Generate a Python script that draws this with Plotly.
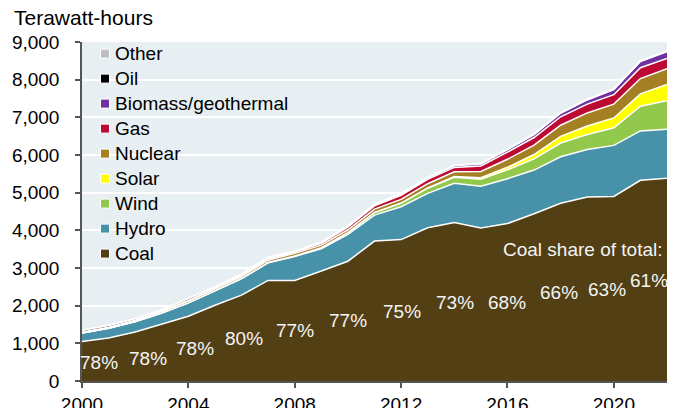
import plotly.graph_objects as go

# China electricity generation by source, terawatt-hours
years = list(range(2000, 2023))

coal = [1050, 1140, 1300, 1520, 1720, 2010, 2280, 2670, 2670, 2920, 3180, 3715,
        3755, 4070, 4210, 4060, 4180, 4440, 4720, 4885, 4900, 5330, 5380]
hydro = [222, 260, 275, 283, 354, 380, 436, 470, 637, 590, 715, 690,
         870, 910, 1040, 1110, 1190, 1160, 1232, 1260, 1355, 1310, 1303]
wind = [1, 1, 1, 1, 1, 2, 4, 6, 13, 27, 45, 70,
        96, 138, 156, 186, 237, 295, 366, 400, 467, 655, 760]
solar = [0, 0, 0, 0, 0, 0, 0, 0, 0, 0, 1, 3,
         4, 9, 24, 39, 66, 118, 177, 224, 262, 327, 430]
nuclear = [17, 17, 25, 43, 50, 53, 55, 62, 68, 70, 74, 86,
           97, 111, 126, 170, 213, 248, 295, 348, 366, 408, 418]
gas = [6, 7, 8, 9, 10, 12, 28, 40, 31, 50, 69, 86,
       110, 115, 115, 145, 188, 203, 225, 233, 252, 287, 271]
biomass = [2, 2, 2, 2, 2, 4, 6, 7, 10, 15, 25, 30,
           35, 40, 45, 53, 65, 80, 93, 112, 136, 166, 182]
oil = [47, 46, 40, 30, 50, 35, 30, 25, 15, 10, 13, 8,
       6, 6, 10, 10, 10, 10, 10, 10, 10, 10, 10]
other = [5, 5, 5, 5, 5, 5, 5, 5, 5, 5, 5, 5,
         5, 5, 5, 5, 5, 5, 10, 10, 10, 10, 10]

# stacking order, bottom to top
series_names = ["Coal", "Hydro", "Wind", "Solar", "Nuclear", "Gas",
                "Biomass/geothermal", "Oil", "Other"]
series_values = [coal, hydro, wind, solar, nuclear, gas, biomass, oil, other]
series_colors = ["#523f14", "#4791a9", "#92c84b", "#ffff00", "#a57f24",
                 "#bd0a34", "#7030a0", "#000000", "#bfbfbf"]

# coal share labels (every other year)
share_x = [2000.64, 2002.47, 2004.26, 2006.09, 2008.0, 2010.0,
           2012.04, 2014.04, 2016.0, 2017.94, 2019.75, 2021.34]
share_y = [496, 603, 868, 1134, 1346, 1611, 1850, 2089, 2089, 2355, 2434, 2673]
share_text = ["78%", "78%", "78%", "80%", "77%", "77%",
              "75%", "73%", "68%", "66%", "63%", "61%"]

x_ticks = [2000, 2004, 2008, 2012, 2016, 2020]
y_ticks = list(range(0, 9001, 1000))

FONT = "Liberation Sans, Arial, sans-serif"

fig = go.Figure()
for name, vals, col in zip(series_names, series_values, series_colors):
    fig.add_trace(go.Scatter(
        x=years, y=vals, name=name, mode="lines",
        stackgroup="one", fillcolor=col,
        line=dict(color="white", width=1.5),
        showlegend=False,
    ))

annotations = []
shapes = []

# plot-area edges in pixels
L, R, T, B = 82, 667, 41.7, 380.7
W, H = R - L, B - T

# legend drawn as squares + labels, top item is the last stacked series
for i, (name, col) in enumerate(zip(series_names[::-1], series_colors[::-1])):
    yc = 53.3 + 25 * i
    yp = (B - yc) / H
    shapes.append(dict(
        type="rect", xref="paper", yref="paper",
        xsizemode="pixel", ysizemode="pixel",
        xanchor=(105 - L) / W, yanchor=yp,
        x0=-4.5, x1=4.5, y0=-4.5, y1=4.5,
        fillcolor=col, line=dict(color="white", width=1),
    ))
    annotations.append(dict(
        x=(113 - L) / W, y=yp, xref="paper", yref="paper",
        xanchor="left", yanchor="middle", text=name, showarrow=False,
        font=dict(family=FONT, size=19, color="#000000"),
    ))

for sx, sy, st in zip(share_x, share_y, share_text):
    annotations.append(dict(
        x=sx, y=sy, xref="x", yref="y", text=st, showarrow=False,
        xanchor="center", yanchor="middle",
        font=dict(family=FONT, size=19, color="#f4f4f4"),
    ))

annotations.append(dict(
    x=2021.9, y=3496, xref="x", yref="y", text="Coal share of total:",
    showarrow=False, xanchor="right", yanchor="middle",
    font=dict(family=FONT, size=19, color="#f4f4f4"),
))

annotations.append(dict(
    x=(12 - L) / W, y=(B - 17) / H, xref="paper", yref="paper",
    text="Terawatt-hours", showarrow=False, xanchor="left", yanchor="middle",
    font=dict(family=FONT, size=21, color="#000000"),
))

fig.update_layout(
    width=677, height=408,
    margin=dict(l=L, r=677 - R, t=T, b=408 - B, autoexpand=False),
    paper_bgcolor="white",
    plot_bgcolor="#e7eff2",
    font=dict(family=FONT, size=19, color="#000000"),
    showlegend=False,
    annotations=annotations,
    shapes=shapes,
    xaxis=dict(
        range=[2000, 2022], tickvals=x_ticks, automargin=False,
        ticks="outside", ticklen=5, tickwidth=1.5, tickcolor="#555555",
        showline=True, linecolor="#555555", linewidth=1.5,
        showgrid=False, zeroline=False, ticklabelstandoff=0,
        tickfont=dict(family=FONT, size=19, color="#000000"),
    ),
    yaxis=dict(
        range=[0, 9000], tickvals=y_ticks, tickformat=",", automargin=False,
        ticks="outside", ticklen=5, tickwidth=1.5, tickcolor="#555555",
        showline=True, linecolor="#555555", linewidth=1.5,
        showgrid=True, gridcolor="white", gridwidth=2, zeroline=False,
        ticklabelstandoff=12,
        tickfont=dict(family=FONT, size=19, color="#000000"),
    ),
)

fig.write_html("out.html")
